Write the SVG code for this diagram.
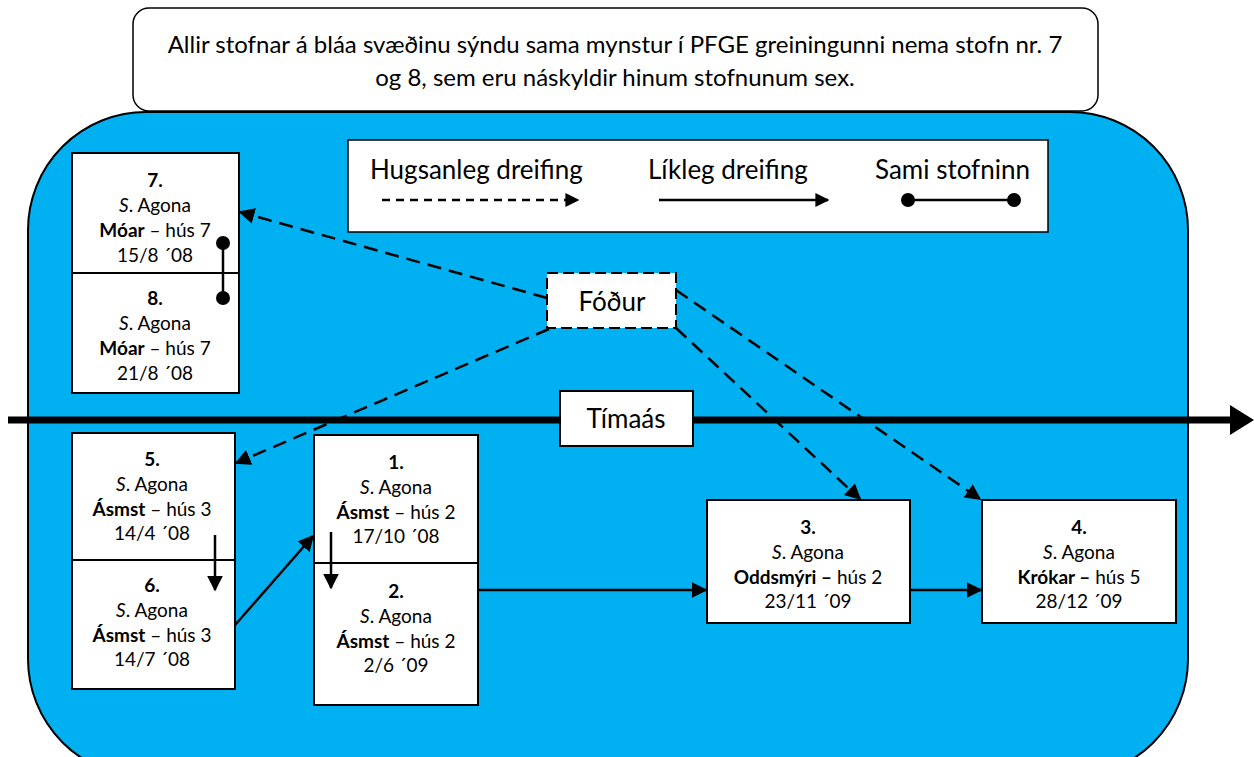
<svg xmlns="http://www.w3.org/2000/svg" width="1254" height="757" viewBox="0 0 1254 757">
<defs>
<style>
text{font-family:Lato,"Open Sans","Liberation Sans",sans-serif;fill:#000}
.n{font-size:19px;text-anchor:middle}
.b{font-weight:bold}
.i{font-style:italic}
.box{fill:#fff;stroke:#000;stroke-width:2}
.dash{fill:none;stroke:#000;stroke-width:2.5;stroke-dasharray:14,8}
.sol{fill:none;stroke:#000;stroke-width:2.5}
.lg{font-size:26px}
</style>
<marker id="ah" viewBox="0 0 10 10" refX="9" refY="5" markerWidth="14" markerHeight="14" markerUnits="userSpaceOnUse" orient="auto">
<path d="M0,0 L10,5 L0,10 Z" fill="#000"/>
</marker>
<marker id="ahb" viewBox="0 0 10 10" refX="9" refY="5" markerWidth="16" markerHeight="16" markerUnits="userSpaceOnUse" orient="auto">
<path d="M0,0 L10,5 L0,10 Z" fill="#000"/>
</marker>
<marker id="dot" viewBox="0 0 10 10" refX="5" refY="5" markerWidth="14" markerHeight="14" markerUnits="userSpaceOnUse">
<circle cx="5" cy="5" r="5" fill="#000"/>
</marker>
</defs>

<g id="background">
<rect x="28" y="112" width="1160" height="665" rx="118" fill="#00b0f0" stroke="#000" stroke-width="2"/>
</g>

<g id="note">
<rect x="133" y="8" width="965" height="103" rx="16" fill="#fff" stroke="#000" stroke-width="1.5"/>
<text x="615" y="53" font-size="24" text-anchor="middle">Allir stofnar á bláa svæðinu sýndu sama mynstur í PFGE greiningunni nema stofn nr. 7</text>
<text x="615" y="86" font-size="24" text-anchor="middle">og 8, sem eru náskyldir hinum stofnunum sex.</text>
</g>

<g id="legend">
<rect x="348" y="140" width="700" height="92" fill="#fff" stroke="#000" stroke-width="1.5"/>
<text x="370" y="179" class="lg">Hugsanleg dreifing</text>
<text x="648" y="179" class="lg">Líkleg dreifing</text>
<text x="875" y="179" class="lg">Sami stofninn</text>
<line x1="382" y1="200" x2="578" y2="200" stroke="#000" stroke-width="2.5" stroke-dasharray="8,6" marker-end="url(#ah)"/>
<line x1="659" y1="200" x2="828" y2="200" stroke="#000" stroke-width="2.5" marker-end="url(#ah)"/>
<line x1="908" y1="200" x2="1014" y2="200" stroke="#000" stroke-width="2.5" marker-start="url(#dot)" marker-end="url(#dot)"/>
</g>

<g id="timeaxis">
<line x1="8" y1="420" x2="1236" y2="420" stroke="#000" stroke-width="7"/>
<path d="M1230,405 L1254,420 L1230,435 Z" fill="#000"/>
<rect x="560" y="391" width="133" height="55" class="box"/>
<text x="626" y="428" class="lg" text-anchor="middle">Tímaás</text>
</g>

<g id="fodur">
<rect x="547" y="273" width="129" height="55" fill="#fff" stroke="#000" stroke-width="2" stroke-dasharray="11,5"/>
<text x="612" y="311" class="lg" text-anchor="middle">Fóður</text>
</g>

<g id="node7">
<rect x="72" y="153" width="167" height="120" class="box"/>
<text class="n" x="155" y="187"><tspan class="b">7.</tspan></text>
<text class="n" x="155" y="212"><tspan class="i">S</tspan>. Agona</text>
<text class="n" x="155" y="237"><tspan class="b">Móar</tspan> – hús 7</text>
<text class="n" x="155" y="262">15/8 ´08</text>
</g>
<g id="node8">
<rect x="72" y="273" width="167" height="120" class="box"/>
<text class="n" x="155" y="305"><tspan class="b">8.</tspan></text>
<text class="n" x="155" y="330"><tspan class="i">S</tspan>. Agona</text>
<text class="n" x="155" y="355"><tspan class="b">Móar</tspan> – hús 7</text>
<text class="n" x="155" y="380">21/8 ´08</text>
</g>

<g id="node5">
<rect x="72" y="433" width="163" height="127" class="box"/>
<text class="n" x="152" y="466"><tspan class="b">5.</tspan></text>
<text class="n" x="152" y="491"><tspan class="i">S</tspan>. Agona</text>
<text class="n" x="152" y="516"><tspan class="b">Ásmst</tspan> – hús 3</text>
<text class="n" x="152" y="540">14/4 ´08</text>
</g>
<g id="node6">
<rect x="72" y="560" width="163" height="129" class="box"/>
<text class="n" x="152" y="592"><tspan class="b">6.</tspan></text>
<text class="n" x="152" y="617"><tspan class="i">S</tspan>. Agona</text>
<text class="n" x="152" y="642"><tspan class="b">Ásmst</tspan> – hús 3</text>
<text class="n" x="152" y="666">14/7 ´08</text>
</g>

<g id="node1">
<rect x="314" y="435" width="164" height="128" class="box"/>
<text class="n" x="396" y="469"><tspan class="b">1.</tspan></text>
<text class="n" x="396" y="494"><tspan class="i">S</tspan>. Agona</text>
<text class="n" x="396" y="519"><tspan class="b">Ásmst</tspan> – hús 2</text>
<text class="n" x="396" y="543">17/10 ´08</text>
</g>
<g id="node2">
<rect x="314" y="563" width="164" height="142" class="box"/>
<text class="n" x="396" y="598"><tspan class="b">2.</tspan></text>
<text class="n" x="396" y="623"><tspan class="i">S</tspan>. Agona</text>
<text class="n" x="396" y="648"><tspan class="b">Ásmst</tspan> – hús 2</text>
<text class="n" x="396" y="672">2/6 ´09</text>
</g>

<g id="node3">
<rect x="707" y="500" width="203" height="123" class="box"/>
<text class="n" x="808" y="534"><tspan class="b">3.</tspan></text>
<text class="n" x="808" y="559"><tspan class="i">S</tspan>. Agona</text>
<text class="n" x="808" y="584"><tspan class="b">Oddsmýri –</tspan> hús 2</text>
<text class="n" x="808" y="608">23/11 ´09</text>
</g>

<g id="node4">
<rect x="982" y="500" width="194" height="123" class="box"/>
<text class="n" x="1079" y="534"><tspan class="b">4.</tspan></text>
<text class="n" x="1079" y="559"><tspan class="i">S</tspan>. Agona</text>
<text class="n" x="1079" y="584"><tspan class="b">Krókar –</tspan> hús 5</text>
<text class="n" x="1079" y="608">28/12 ´09</text>
</g>

<g id="connectors">
<line x1="547" y1="298" x2="240" y2="212" class="dash" marker-end="url(#ahb)"/>
<line x1="549" y1="329" x2="236" y2="463" class="dash" marker-end="url(#ahb)"/>
<line x1="676" y1="328" x2="860" y2="499" class="dash" marker-end="url(#ahb)"/>
<line x1="676" y1="290" x2="980" y2="499" class="dash" marker-end="url(#ahb)"/>
<line x1="215" y1="535" x2="215" y2="590" class="sol" marker-end="url(#ahb)"/>
<line x1="235" y1="625" x2="313" y2="536" class="sol" marker-end="url(#ahb)"/>
<line x1="331" y1="532" x2="331" y2="588" class="sol" marker-end="url(#ahb)"/>
<line x1="478" y1="590" x2="706" y2="590" class="sol" marker-end="url(#ahb)"/>
<line x1="910" y1="590" x2="981" y2="590" class="sol" marker-end="url(#ahb)"/>
<line x1="223" y1="243" x2="223" y2="298" stroke="#000" stroke-width="2.5" marker-start="url(#dot)" marker-end="url(#dot)"/>
</g>
</svg>
